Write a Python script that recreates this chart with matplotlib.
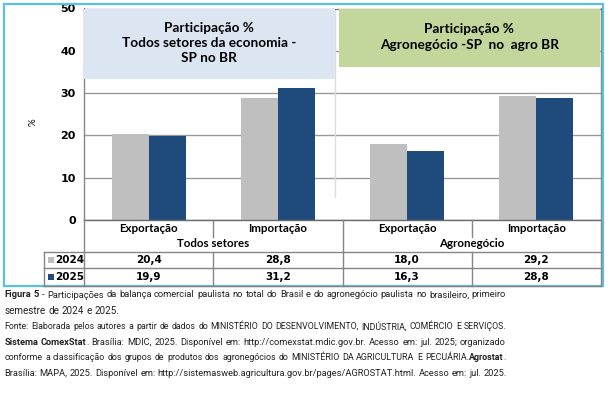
import matplotlib
matplotlib.use("Agg")
import matplotlib.pyplot as plt
from matplotlib import transforms
from matplotlib.lines import Line2D
from matplotlib.patches import Rectangle

# data
categories = ["Exportação", "Importação", "Exportação", "Importação"]
groups = ["Todos setores", "Agronegócio"]
years = ["2024", "2025"]
values_2024 = [20.4, 28.8, 18.0, 29.2]
values_2025 = [19.9, 31.2, 16.3, 28.8]
yticks = [0, 10, 20, 30, 40, 50]

header_left = "Participação %\nTodos setores da economia -\nSP no BR"
header_right = "Participação %\nAgronegócio -SP  no  agro BR"

caption = [
    ([("Figura 5", True), (" - Participações da balança comercial paulista no total do Brasil e do agronegócio paulista no brasileiro, primeiro", False)], True),
    ([("semestre de 2024 e 2025.", False)], False),
    ([("Fonte: Elaborada pelos autores a partir de dados do MINISTÉRIO DO DESENVOLVIMENTO, INDÚSTRIA, COMÉRCIO E SERVIÇOS.", False)], True),
    ([("Sistema ComexStat", True), (". Brasília: MDIC, 2025. Disponível em: http://comexstat.mdic.gov.br. Acesso em: jul. 2025; organizado", False)], True),
    ([("conforme a classificação dos grupos de produtos dos agronegócios do MINISTÉRIO DA AGRICULTURA E PECUÁRIA. ", False), ("Agrostat", True), (".", False)], True),
    ([("Brasília: MAPA, 2025. Disponível em: http://sistemasweb.agricultura.gov.br/pages/AGROSTAT.html. Acesso em: jul. 2025.", False)], False),
]

gray = "#bfbfbf"
navy = "#1f4a7c"
line_col = "#858585"

W, H = 614, 394
fig = plt.figure(figsize=(W / 100, H / 100), dpi=100)
plt.rcParams["font.family"] = ["Lato", "DejaVu Sans"]

# pixel coords (top-left origin) -> figure
px = transforms.Affine2D().scale(1 / W, -1 / H).translate(0, 1) + fig.transFigure

left, right, top, bottom = 84, 601, 8.5, 220
ax = fig.add_axes([left / W, 1 - bottom / H, (right - left) / W, (bottom - top) / H])

x = list(range(len(categories)))
bw = 0.286
ax.bar([i - bw / 2 for i in x], values_2024, bw, color=gray, zorder=2)
ax.bar([i + bw / 2 for i in x], values_2025, bw, color=navy, zorder=2)
ax.set_xlim(-0.5, 3.5)
ax.set_ylim(0, 50)
ax.set_yticks(yticks)
ax.set_yticklabels([str(t) for t in yticks], fontsize=8, fontweight="bold",
                   family="DejaVu Sans")
ax.tick_params(axis="y", length=0, pad=6)
ax.set_xticks([])
ax.yaxis.grid(True, color="#9a9a9a", lw=1)
ax.set_axisbelow(True)
for s in ax.spines.values():
    s.set_color(line_col)
    s.set_linewidth(1)
ax.spines["bottom"].set_color("#6a6a6a")

# header boxes
ax.add_patch(Rectangle((-0.5, 33.4), 1.94, 16.4, facecolor="#dce6f2",
                       edgecolor="none", zorder=3))
ax.add_patch(Rectangle((1.47, 36.2), 2.02, 13.6, facecolor="#c3d69b",
                       edgecolor="none", zorder=3))
ax.plot([1.44, 1.44], [5.4, 49.8], color="#dddddd", lw=1, zorder=1)
ax.text(0.47, 41.8, header_left, ha="center", va="center", fontsize=9.8,
        fontweight="bold", linespacing=1.3, zorder=4)
ax.text(2.48, 43.3, header_right, ha="center", va="center", fontsize=9.8,
        fontweight="bold", linespacing=1.45, zorder=4)

fig.text(33 / W, 1 - 122 / H, "%", rotation=90, ha="center", va="center",
         fontsize=7)

# data table under the axis
bt = transforms.blended_transform_factory(ax.transData, px)


def hline(x0, x1, y):
    fig.add_artist(Line2D([x0, x1], [y, y], color=line_col, lw=1, transform=px))


def vline(xd, y0, y1):
    fig.add_artist(Line2D([xd, xd], [y0, y1], color=line_col, lw=1, transform=bt))


hline(43.5, right, 252)
hline(43.5, right, 268)
hline(43.5, right, 286)
fig.add_artist(Line2D([43.5, 43.5], [252, 286], color=line_col, lw=1, transform=px))
vline(-0.5, 220, 286)
vline(3.5, 220, 286)
vline(1.5, 220, 286)
for xd in (0.5, 2.5):
    vline(xd, 220, 237)
    vline(xd, 252, 286)

for i, c in enumerate(categories):
    fig.text(i, 229, c, transform=bt, ha="center", va="center", fontsize=8.3,
             fontweight="bold")
for g, gname in enumerate(groups):
    fig.text(2 * g + 0.5, 244, gname, transform=bt, ha="center", va="center",
             fontsize=8.3, fontweight="bold")

for row, (yr, vals, col) in enumerate(zip(years, [values_2024, values_2025], [gray, navy])):
    yc = 260.5 + row * 17
    fig.add_artist(Rectangle((48, yc + 2.5), 5.5, -5.5, facecolor=col,
                             edgecolor="none", transform=px))
    fig.text(55.5, yc, yr, transform=px, ha="left", va="center", fontsize=7.5,
             fontweight="bold", family="DejaVu Sans")
    for i, v in enumerate(vals):
        fig.text(i, yc, f"{v:.1f}".replace(".", ","), transform=bt, ha="center",
                 va="center", fontsize=7.5, fontweight="bold", family="DejaVu Sans")

# outer frame
fig.add_artist(Rectangle((4, 4), 598.5, 282, facecolor="none", edgecolor="#5bc0de",
                         lw=1.6, transform=px))

# caption with justified lines
renderer = fig.canvas.get_renderer()
cap_x0, cap_x1 = 4.5, 506
cap_max = 7.1
cap_font = "Roboto"


def width_of(s, bold, size):
    t = fig.text(0, 0, s, fontsize=size, family=cap_font,
                 fontweight="bold" if bold else "normal")
    w = t.get_window_extent(renderer).width
    t.remove()
    return w


for n, (parts, justify) in enumerate(caption):
    yc = 295 + n * 15.7
    words = []
    for s, b in parts:
        for k, tk in enumerate(s.split(" ")):
            if tk == "":
                continue
            glue = k == 0 and not s.startswith(" ") and words
            words.append([tk, b, bool(glue)])
    gaps = sum(1 for w in words[1:] if not w[2])

    size = cap_max
    space = width_of("a a", False, size) - width_of("aa", False, size)
    widths = [width_of(w[0], w[1], size) for w in words]
    natural = sum(widths) + gaps * space
    if natural > cap_x1 - cap_x0:
        size = size * (cap_x1 - cap_x0) / natural
        space = width_of("a a", False, size) - width_of("aa", False, size)
        widths = [width_of(w[0], w[1], size) for w in words]
    if justify and gaps:
        space = (cap_x1 - cap_x0 - sum(widths)) / gaps

    xc = cap_x0
    for (tk, b, glue), w in zip(words, widths):
        if xc > cap_x0 and not glue:
            xc += space
        fig.text(xc, yc, tk, transform=px, ha="left", va="center", fontsize=size,
                 family=cap_font, fontweight="bold" if b else "normal",
                 color="#222222")
        xc += w

fig.savefig("out.png", dpi=100)
